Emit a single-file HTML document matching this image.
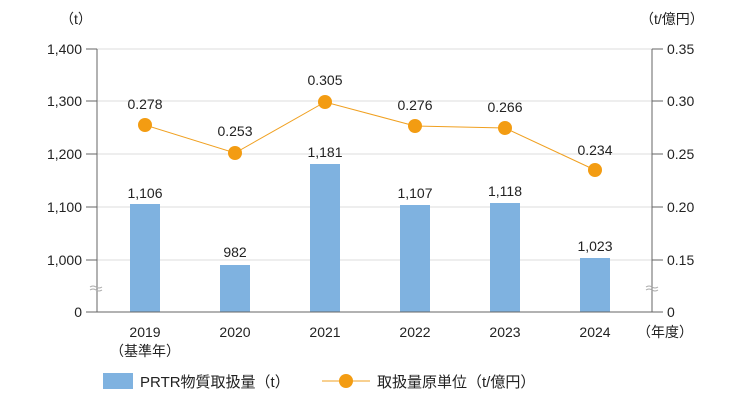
<!DOCTYPE html>
<html><head><meta charset="utf-8"><style>body{margin:0;background:#fff}</style></head><body>
<svg width="740" height="411" xmlns="http://www.w3.org/2000/svg" font-family="'Liberation Sans','Noto Sans CJK JP',sans-serif" fill="#222">
<g stroke="#ddd" stroke-width="1">
<line x1="97" y1="49" x2="652" y2="49"/><line x1="97" y1="101" x2="652" y2="101"/><line x1="97" y1="154" x2="652" y2="154"/><line x1="97" y1="207" x2="652" y2="207"/><line x1="97" y1="260" x2="652" y2="260"/>
</g>
<g fill="#7fb2e0">
<rect x="130" y="204" width="30" height="108"/><rect x="220" y="265" width="30" height="47"/><rect x="310" y="164" width="30" height="148"/><rect x="400" y="205" width="30" height="107"/><rect x="490" y="203" width="30" height="109"/><rect x="580" y="258" width="30" height="54"/>
</g>
<g stroke="#666" stroke-width="1">
<line x1="97" y1="49" x2="97" y2="312"/><line x1="652" y1="49" x2="652" y2="312"/><line x1="86" y1="312" x2="663" y2="312"/>
<line x1="86" y1="49" x2="97" y2="49"/><line x1="86" y1="101" x2="97" y2="101"/><line x1="86" y1="154" x2="97" y2="154"/><line x1="86" y1="207" x2="97" y2="207"/><line x1="86" y1="260" x2="97" y2="260"/>
<line x1="652" y1="49" x2="663" y2="49"/><line x1="652" y1="101" x2="663" y2="101"/><line x1="652" y1="154" x2="663" y2="154"/><line x1="652" y1="207" x2="663" y2="207"/><line x1="652" y1="260" x2="663" y2="260"/>
</g>
<g stroke="#aaa" fill="none" stroke-width="1"><path d="M90 287 q3 -2 6 0 t6 0 M90 290 q3 -2 6 0 t6 0"/><path d="M646 287 q3 -2 6 0 t6 0 M646 290 q3 -2 6 0 t6 0"/></g>
<g font-size="14" text-anchor="end">
<text x="82" y="54">1,400</text><text x="82" y="106">1,300</text><text x="82" y="159">1,200</text><text x="82" y="212">1,100</text><text x="82" y="265">1,000</text><text x="82" y="317">0</text>
</g>
<g font-size="14" text-anchor="start">
<text x="667" y="54">0.35</text><text x="667" y="106">0.30</text><text x="667" y="159">0.25</text><text x="667" y="212">0.20</text><text x="667" y="265">0.15</text><text x="667" y="317">0</text>
</g>
<text x="60" y="24" font-size="14">（t）</text>
<text x="640" y="24" font-size="14">（t/億円）</text>
<g font-size="14" text-anchor="middle">
<text x="145" y="337">2019</text><text x="145" y="356">（基準年）</text>
<text x="235" y="337">2020</text><text x="325" y="337">2021</text><text x="415" y="337">2022</text><text x="505" y="337">2023</text><text x="595" y="337">2024</text>
<text x="665" y="337">（年度）</text>
<text x="145" y="198">1,106</text><text x="235" y="257">982</text><text x="325" y="157">1,181</text><text x="415" y="198">1,107</text><text x="505" y="196">1,118</text><text x="595" y="251">1,023</text>
<text x="145" y="109">0.278</text><text x="235" y="136">0.253</text><text x="325" y="85">0.305</text><text x="415" y="110">0.276</text><text x="505" y="112">0.266</text><text x="595" y="155">0.234</text>
</g>
<polyline points="145,125 235,153 325,102 415,126 505,128 595,170" fill="none" stroke="#f0a020" stroke-width="1"/>
<g fill="#f39c12"><circle cx="145" cy="125" r="7"/><circle cx="235" cy="153" r="7"/><circle cx="325" cy="102" r="7"/><circle cx="415" cy="126" r="7"/><circle cx="505" cy="128" r="7"/><circle cx="595" cy="170" r="7"/></g>
<rect x="103" y="373" width="30" height="16" fill="#7fb2e0"/>
<text x="140" y="387" font-size="15">PRTR物質取扱量（t）</text>
<line x1="322" y1="381" x2="370" y2="381" stroke="#f0a020" stroke-width="1"/>
<circle cx="346" cy="381" r="7" fill="#f39c12"/>
<text x="377" y="387" font-size="15">取扱量原単位（t/億円）</text>
</svg>
</body></html>
